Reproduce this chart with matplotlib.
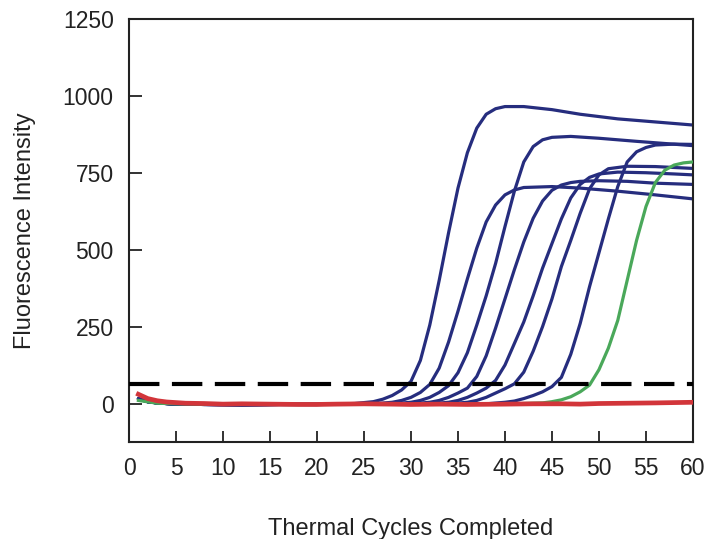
import matplotlib
matplotlib.use("Agg")
import matplotlib.pyplot as plt

plt.rcParams['font.family'] = ['Liberation Sans', 'DejaVu Sans']

# shared early baseline of the blue wells
base_cycles = [1, 2, 3, 5, 8, 12, 16, 20]
base_blue = [15, 6, 2, -2, -3, -4, -3, -3]

# blue amplification curves (cycle, fluorescence)
c1_cycles = [24, 26, 27, 28, 29, 30, 31, 32, 33, 34, 35, 36, 37, 38, 39, 40, 42, 45, 48, 52, 56, 60]
c1_values = [0, 6, 14, 26, 44, 72, 140, 255, 400, 555, 700, 815, 895, 940, 958, 965, 965, 955, 940, 925, 915, 905]

c2_cycles = [26, 28, 29, 30, 31, 32, 33, 34, 35, 36, 37, 38, 39, 40, 41, 42, 45, 48, 52, 56, 60]
c2_values = [-1, 4, 10, 20, 36, 62, 115, 200, 300, 405, 505, 590, 645, 678, 694, 702, 705, 700, 690, 678, 665]

c3_cycles = [28, 30, 31, 32, 33, 34, 35, 36, 37, 38, 39, 40, 41, 42, 43, 44, 45, 47, 50, 54, 57, 60]
c3_values = [-1, 4, 10, 20, 36, 58, 100, 165, 255, 350, 455, 575, 690, 785, 835, 857, 865, 868, 862, 852, 845, 838]

c4_cycles = [30, 32, 33, 34, 35, 36, 37, 38, 39, 40, 41, 42, 43, 44, 45, 46, 47, 48, 50, 53, 56, 60]
c4_values = [-1, 4, 10, 20, 34, 50, 88, 155, 245, 340, 435, 525, 602, 658, 693, 710, 718, 722, 724, 722, 716, 712]

c5_cycles = [32, 34, 35, 36, 37, 38, 39, 40, 41, 42, 43, 44, 45, 46, 47, 48, 49, 50, 52, 55, 58, 60]
c5_values = [-1, 4, 10, 20, 34, 50, 75, 125, 195, 265, 350, 440, 520, 600, 668, 712, 735, 746, 752, 750, 746, 743]

c6_cycles = [34, 36, 37, 38, 39, 40, 41, 42, 43, 44, 45, 46, 47, 48, 49, 50, 51, 53, 56, 60]
c6_values = [-1, 4, 10, 20, 34, 48, 64, 102, 170, 250, 340, 445, 530, 618, 698, 743, 763, 771, 770, 764]

c7_cycles = [38, 40, 41, 42, 43, 44, 45, 46, 47, 48, 49, 50, 51, 52, 53, 54, 55, 56, 58, 60]
c7_values = [-1, 4, 8, 16, 26, 38, 55, 85, 160, 260, 380, 490, 600, 705, 785, 818, 832, 840, 843, 842]

# green well
green_cycles = [1, 3, 5, 10, 20, 30, 40, 44, 45, 46, 47, 48, 49, 50, 51, 52, 53, 54, 55, 56, 57, 58, 59, 60]
green_values = [10, 1, -1, -3, -3, -3, -2, 2, 6, 12, 22, 38, 60, 110, 180, 270, 400, 530, 640, 718, 758, 775, 782, 785]

# red (no template) well
red_cycles = [1, 2, 3, 4, 5, 6, 8, 10, 12, 15, 18, 20, 22, 25, 28, 30, 33, 36, 40, 43, 46, 48, 50, 53, 56, 60]
red_values = [30, 16, 9, 5, 3, 1, 0, -2, -1, -2, -3, -3, -2, -1, -2, -3, -2, -3, -2, -1, -1, -2, 0, 1, 2, 4]

threshold = 63

blue_curves = [(c1_cycles, c1_values), (c2_cycles, c2_values), (c3_cycles, c3_values),
               (c4_cycles, c4_values), (c5_cycles, c5_values), (c6_cycles, c6_values),
               (c7_cycles, c7_values)]

fig = plt.figure(figsize=(7.1, 5.39), dpi=100)
ax = fig.add_axes([0.1817, 0.180, 0.7943, 0.785])

navy = '#262d7e'
for cyc, val in blue_curves:
    ax.plot(base_cycles + cyc, base_blue + val, color=navy, lw=2.3,
            solid_joinstyle='round', solid_capstyle='round', zorder=2)

ax.plot(green_cycles, green_values, color='#4aa85a', lw=2.3, solid_joinstyle='round', zorder=3)
ax.plot(red_cycles, red_values, color='#d2353a', lw=3.4, solid_joinstyle='round', zorder=4)

ax.axhline(threshold, color='black', lw=3, dashes=(7.3, 3), zorder=5)

ax.set_xlim(0, 60)
ax.set_ylim(-125, 1250)
ax.set_xticks(range(0, 61, 5))
ax.set_yticks(range(0, 1251, 250))

for s in ax.spines.values():
    s.set_linewidth(1.5)
    s.set_color('#222222')

ax.tick_params(axis='x', direction='in', length=8, width=1.3, pad=11,
               labelsize=16.5, colors='#222222')
ax.tick_params(axis='y', direction='in', length=9, width=1.3, pad=11,
               labelsize=16.5, colors='#222222')

ax.set_xlabel('Thermal Cycles Completed', fontsize=17, color='#222222', labelpad=27)
ax.set_ylabel('Fluorescence Intensity', fontsize=17, color='#222222', labelpad=19)

fig.savefig('out.png', dpi=100)
